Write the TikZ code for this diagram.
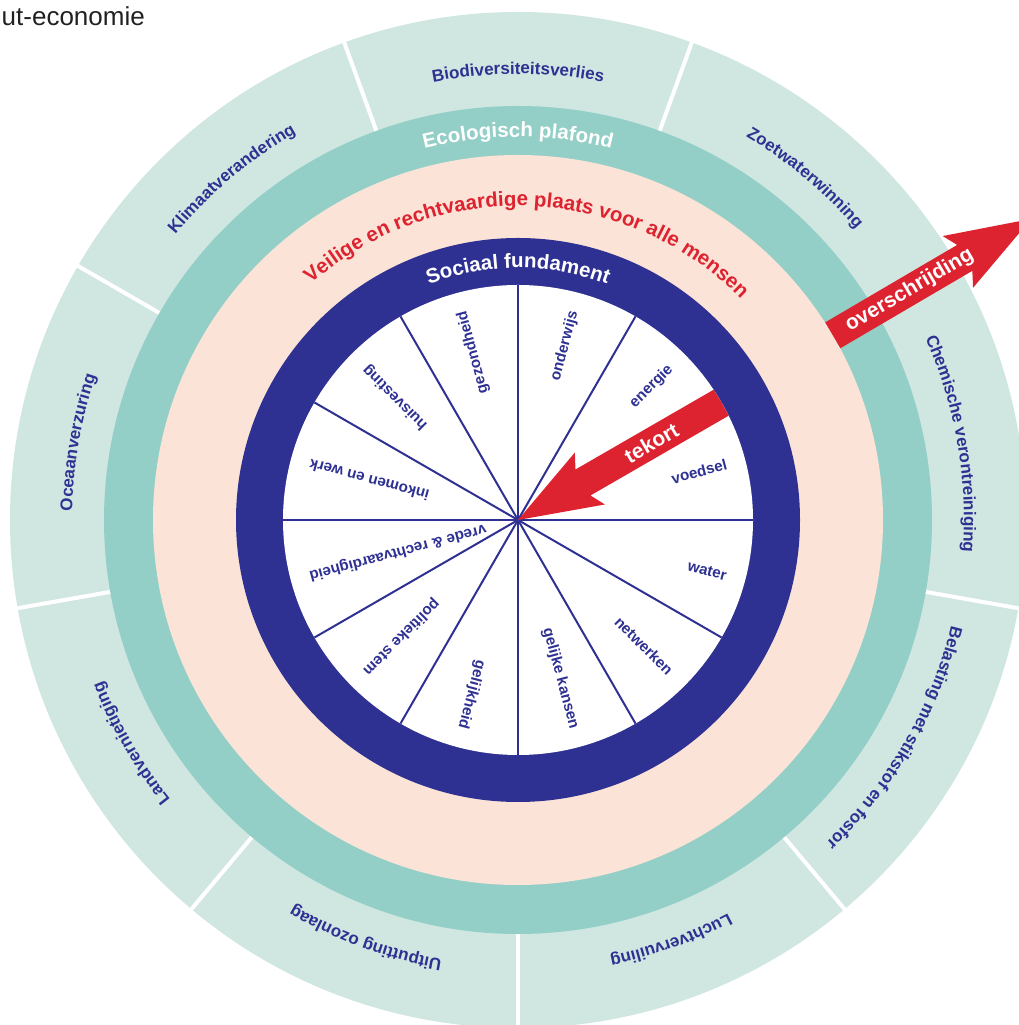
\documentclass[tikz,border=0pt]{standalone}
\usepackage{fontspec}
\setmainfont{Liberation Sans}
\usetikzlibrary{decorations.text}

\definecolor{outerteal}{RGB}{208,230,225}
\definecolor{ringteal}{RGB}{147,207,199}
\definecolor{peach}{RGB}{252,227,216}
\definecolor{navy}{RGB}{46,49,146}
\definecolor{alarm}{RGB}{221,35,48}
\definecolor{titlegray}{RGB}{33,33,33}

\newcommand{\ringfont}{\fontsize{20.5}{20.5}\selectfont\bfseries}
\newcommand{\boundfont}{\fontsize{17}{17}\selectfont\bfseries}
\newcommand{\needfont}{\fontsize{15.2}{15.2}\selectfont\bfseries}
\newcommand{\alarmfont}{\fontsize{21}{21}\selectfont\bfseries}
\newcommand{\titlefont}{\fontsize{26}{26}\selectfont}

\begin{document}
\begin{tikzpicture}[x=1pt,y=1pt,
  spoke/.style={navy, line width=2pt},
  gap/.style={white, line width=4pt},
  needlabel/.style={navy, font=\needfont, inner sep=0pt, anchor=east},
  alarmlabel/.style={white, font=\alarmfont, inner sep=0pt}]
\useasboundingbox (0,0) rectangle (1019,1025);
\clip (0,0) rectangle (1019,1025);
\coordinate (c) at (518,505);

% ecologisch plafond, buitenring
\fill[outerteal] (c) circle (508);
\foreach \a in {30,70,...,350}
  \draw[gap] ([shift={(\a:412)}]c) -- ([shift={(\a:512)}]c);
\fill[ringteal] (c) circle (414);
\fill[peach] (c) circle (365);
\fill[navy] (c) circle (282);
\fill[white] (c) circle (235);

% sociaal fundament, taartpunten
\foreach \a in {0,30,...,330}
  \draw[spoke] (c) -- ([shift={(\a:235)}]c);
\foreach \a/\name in {15/voedsel, 45/energie, 75/onderwijs, 105/gezondheid,
    135/huisvesting, 165/inkomen en werk, 195/vrede \& rechtvaardigheid,
    225/politieke stem, 255/gelijkheid, 285/gelijke kansen,
    315/netwerken, 345/water}
  \node[needlabel, rotate=\a] (need\a) at ([shift={(\a:216)}]c) {\name};

% pijlen
\begin{scope}[shift={(c)}, rotate=30]
  \clip (0,0) circle (235);
  \fill[alarm] (0,0) -- (83,30) -- (75,15) -- (250,15) -- (250,-15)
    -- (75,-15) -- (83,-30) -- cycle;
\end{scope}
\begin{scope}[shift={(c)}, rotate=30.4]
  \fill[alarm] (365,15) -- (518,15) -- (510,30) -- (595,0) -- (510,-30)
    -- (518,-15) -- (365,-15) -- cycle;
\end{scope}
\node[alarmlabel, rotate=30] (tekort) at ([shift={(30:154)}]c) {tekort};
\node[alarmlabel, rotate=30.4] (overschrijding) at ([shift={(30.4:454)}]c) {overschrijding};

% teksten langs de ringen
\path[decorate, decoration={text along path, text align=center, text color=white,
    text={|\ringfont|Sociaal fundament}}]
  ([shift={(150:252)}]c) arc[start angle=150, end angle=30, radius=252];
\path[decorate, decoration={text along path, text align=center, text color=alarm,
    text={|\ringfont|Veilige en rechtvaardige plaats voor alle mensen}}]
  ([shift={(168:314)}]c) arc[start angle=168, end angle=8, radius=314];
\path[decorate, decoration={text along path, text align=center, text color=white,
    text={|\ringfont|Ecologisch plafond}}]
  ([shift={(140:383)}]c) arc[start angle=140, end angle=40, radius=383];
\foreach \a/\name in {90/Biodiversiteitsverlies, 50/Zoetwaterwinning,
    10/Chemische verontreiniging, -30/Belasting met stikstof en fosfor,
    -70/Luchtvervuiling, -110/Uitputting ozonlaag, -150/Landvernietiging,
    170/Oceaanverzuring, 130/Klimaatverandering}
  \path[decorate, decoration={text along path, text align=center, text color=navy,
      text/.expanded={|\noexpand\boundfont|\name}}]
    ([shift={(\a+35:446)}]c) arc[start angle=\a+35, end angle=\a-35, radius=446];

\node[anchor=base east, font=\titlefont, text=titlegray, inner sep=0pt] (title)
  at (145,999) {Donut-economie};
\end{tikzpicture}
\end{document}
